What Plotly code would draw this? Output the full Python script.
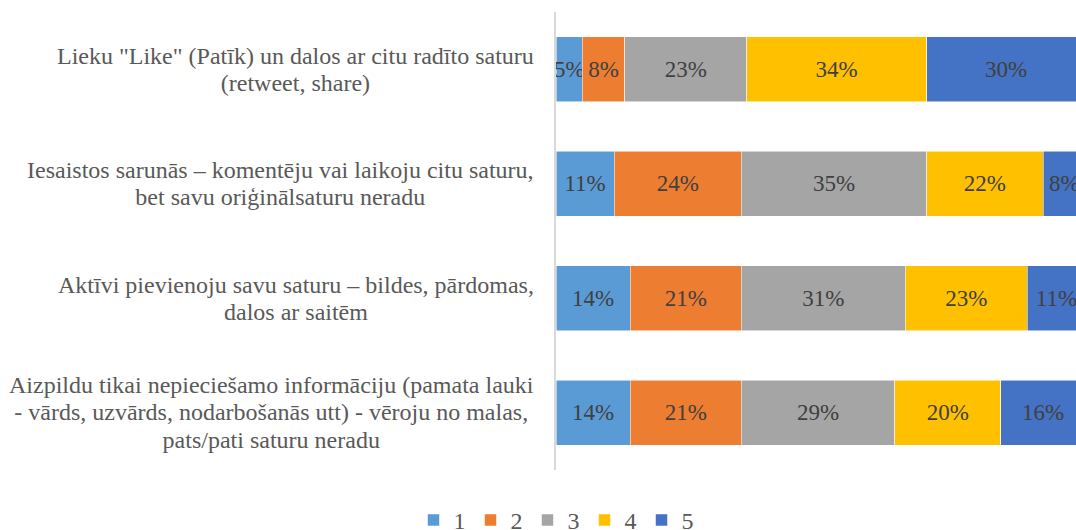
import plotly.graph_objects as go

categories = [
    'Lieku "Like" (Patīk) un dalos ar citu radīto saturu<br>(retweet, share)',
    'Iesaistos sarunās – komentēju vai laikoju citu saturu,<br>bet savu oriģinālsaturu neradu',
    'Aktīvi pievienoju savu saturu – bildes, pārdomas,<br>dalos ar saitēm',
    'Aizpildu tikai nepieciešamo informāciju (pamata lauki<br>- vārds, uzvārds, nodarbošanās utt) - vēroju no malas,<br>pats/pati saturu neradu',
]
series_names = ["1", "2", "3", "4", "5"]
values_1 = [5, 11, 14, 14]
values_2 = [8, 24, 21, 21]
values_3 = [23, 35, 31, 29]
values_4 = [34, 22, 23, 20]
values_5 = [30, 8, 11, 16]
series_values = [values_1, values_2, values_3, values_4, values_5]
colors = ["#5B9BD5", "#ED7D31", "#A5A5A5", "#FFC000", "#4472C4"]

FONT = "Liberation Serif, Times New Roman, serif"

fig = go.Figure()
for name, vals, col in zip(series_names, series_values, colors):
    fig.add_trace(go.Bar(
        y=categories, x=vals, name=name, orientation="h",
        marker=dict(color=col, line=dict(color="rgba(255,255,255,0.7)", width=0.75)),
        text=[f"{v}%" for v in vals], textposition="inside",
        insidetextanchor="middle", textangle=0, constraintext="none",
        textfont=dict(family=FONT, size=23, color="#404040"),
        cliponaxis=True,
    ))

for c in categories:
    styled = "<br>".join(f'<span style="font-size:24px">{ln}</span>' for ln in c.split("<br>"))
    fig.add_annotation(
        x=-0.038, xref="paper", y=c, yref="y", text=styled, showarrow=False,
        xanchor="right", yanchor="middle", align="center",
        font=dict(family=FONT, size=21, color="#595959"),
    )

fig.update_layout(
    width=1076, height=530,
    barmode="stack", bargap=0.435,
    margin=dict(l=556, r=0, t=12, b=60, autoexpand=False),
    paper_bgcolor="white", plot_bgcolor="white",
    uniformtext=dict(minsize=23, mode="show"),
    xaxis=dict(range=[0, 98.2], showgrid=False, showticklabels=False, zeroline=False,
               showline=False, fixedrange=True),
    yaxis=dict(autorange="reversed", showticklabels=False, showgrid=False,
               showline=True, linecolor="#D9D9D9", linewidth=1.5, ticks=""),
    legend=dict(orientation="h", x=0.0, xanchor="center", y=-0.11, yanchor="middle",
                font=dict(family=FONT, size=24, color="#595959"),
                traceorder="normal", itemwidth=30),
    showlegend=True,
)

fig.write_html("out.html", config={"displayModeBar": False},
               post_script="document.body.style.margin='0px';")
